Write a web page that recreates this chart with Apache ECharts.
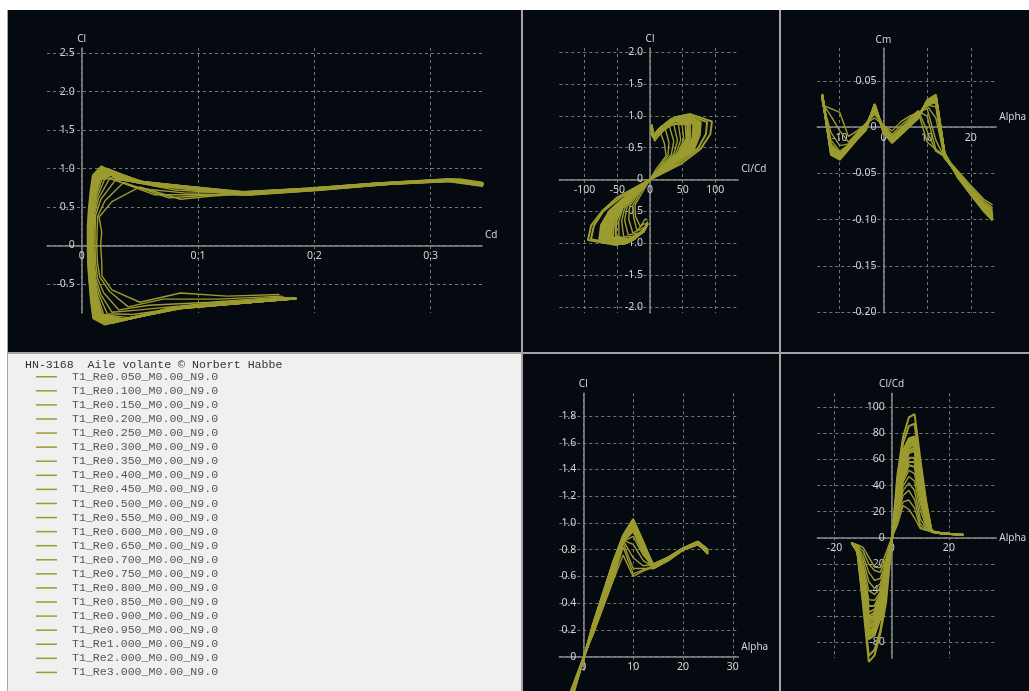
<!DOCTYPE html>
<html><head><meta charset="utf-8">
<script src="https://cdn.jsdelivr.net/npm/echarts@6/dist/echarts.min.js"></script>
<style>html,body{margin:0;padding:0;background:#fff;}#c{width:1029px;height:691px;}</style>
</head><body><div id="c"></div>
<script>
const reynolds = ['0.050','0.100','0.150','0.200','0.250','0.300','0.350','0.400','0.450','0.500','0.550','0.600','0.650','0.700','0.750','0.800','0.850','0.900','0.950','1.000','2.000','3.000'];
const alpha = [-14,-12,-10,-8,-6,-4,-2,0,2,4,6,8,10,12,14,17,20,23,25];
const cl = [
[-0.64,-0.66,-0.62,-0.74,-0.58,-0.40,-0.20,0.00,0.17,0.37,0.57,0.76,0.60,0.64,0.67,0.73,0.80,0.84,0.78],
[-0.66,-0.70,-0.70,-0.80,-0.60,-0.41,-0.21,-0.01,0.17,0.38,0.58,0.82,0.62,0.65,0.68,0.74,0.81,0.85,0.79],
[-0.67,-0.74,-0.78,-0.84,-0.62,-0.42,-0.22,-0.01,0.18,0.39,0.60,0.85,0.66,0.66,0.66,0.72,0.80,0.85,0.77],
[-0.68,-0.76,-0.84,-0.87,-0.64,-0.43,-0.22,-0.02,0.19,0.40,0.61,0.87,0.74,0.68,0.69,0.74,0.81,0.86,0.80],
[-0.68,-0.78,-0.90,-0.89,-0.65,-0.44,-0.23,-0.02,0.19,0.41,0.62,0.87,0.84,0.72,0.67,0.73,0.80,0.84,0.78],
[-0.68,-0.79,-0.94,-0.90,-0.66,-0.45,-0.23,-0.02,0.20,0.42,0.63,0.86,0.90,0.76,0.68,0.74,0.81,0.85,0.79],
[-0.69,-0.80,-0.96,-0.90,-0.67,-0.45,-0.23,-0.02,0.20,0.42,0.64,0.86,0.94,0.78,0.66,0.72,0.80,0.85,0.77],
[-0.69,-0.80,-0.97,-0.91,-0.67,-0.45,-0.23,-0.02,0.20,0.43,0.64,0.86,0.96,0.80,0.69,0.74,0.81,0.86,0.80],
[-0.69,-0.81,-0.98,-0.91,-0.67,-0.46,-0.24,-0.02,0.21,0.43,0.65,0.86,0.97,0.81,0.67,0.73,0.80,0.84,0.78],
[-0.69,-0.81,-0.98,-0.91,-0.68,-0.46,-0.24,-0.02,0.21,0.43,0.65,0.87,0.98,0.82,0.68,0.74,0.81,0.85,0.79],
[-0.69,-0.81,-0.99,-0.91,-0.68,-0.46,-0.24,-0.02,0.21,0.44,0.66,0.87,0.98,0.82,0.66,0.72,0.80,0.85,0.77],
[-0.69,-0.82,-0.99,-0.92,-0.68,-0.47,-0.25,-0.02,0.22,0.44,0.66,0.87,0.99,0.83,0.69,0.74,0.81,0.86,0.80],
[-0.69,-0.82,-1.00,-0.92,-0.69,-0.47,-0.25,-0.02,0.22,0.45,0.67,0.88,0.99,0.83,0.67,0.73,0.80,0.84,0.78],
[-0.69,-0.82,-1.00,-0.92,-0.69,-0.47,-0.25,-0.02,0.22,0.45,0.67,0.88,0.99,0.84,0.68,0.74,0.81,0.85,0.79],
[-0.69,-0.82,-1.00,-0.93,-0.69,-0.48,-0.25,-0.02,0.23,0.46,0.68,0.88,1.00,0.84,0.66,0.72,0.80,0.85,0.77],
[-0.69,-0.82,-1.01,-0.93,-0.70,-0.48,-0.26,-0.02,0.23,0.46,0.68,0.89,1.00,0.84,0.69,0.74,0.81,0.86,0.80],
[-0.69,-0.82,-1.01,-0.93,-0.70,-0.48,-0.26,-0.02,0.23,0.46,0.69,0.89,1.00,0.85,0.67,0.73,0.80,0.84,0.78],
[-0.69,-0.82,-1.01,-0.93,-0.70,-0.49,-0.26,-0.02,0.24,0.47,0.69,0.89,1.00,0.85,0.68,0.74,0.81,0.85,0.79],
[-0.69,-0.82,-1.01,-0.94,-0.71,-0.49,-0.26,-0.02,0.24,0.47,0.70,0.90,1.01,0.85,0.66,0.72,0.80,0.85,0.77],
[-0.69,-0.82,-1.01,-0.94,-0.71,-0.49,-0.27,-0.02,0.24,0.47,0.70,0.90,1.01,0.85,0.69,0.74,0.81,0.86,0.80],
[-0.69,-0.82,-1.02,-0.94,-0.72,-0.50,-0.27,-0.02,0.25,0.48,0.71,0.90,1.02,0.86,0.67,0.73,0.80,0.84,0.78],
[-0.69,-0.82,-1.03,-0.95,-0.72,-0.50,-0.28,-0.02,0.25,0.48,0.71,0.91,1.03,0.86,0.68,0.74,0.81,0.85,0.79]
];
const cd = [
[0.170,0.125,0.085,0.050,0.026,0.0175,0.0172,0.0163,0.0172,0.0150,0.026,0.050,0.085,0.110,0.140,0.200,0.258,0.310,0.340],
[0.172,0.118,0.070,0.040,0.024,0.0155,0.0135,0.0130,0.0132,0.0138,0.020,0.036,0.075,0.105,0.135,0.195,0.255,0.315,0.345],
[0.174,0.110,0.058,0.032,0.019,0.0135,0.0120,0.0115,0.0116,0.0120,0.0165,0.029,0.062,0.098,0.145,0.205,0.265,0.325,0.352],
[0.176,0.104,0.050,0.026,0.0165,0.0122,0.0109,0.0105,0.0106,0.0110,0.0145,0.024,0.050,0.090,0.140,0.200,0.260,0.320,0.350],
[0.177,0.100,0.044,0.022,0.0150,0.0114,0.0102,0.0098,0.0099,0.0103,0.0132,0.020,0.040,0.080,0.135,0.195,0.255,0.315,0.345],
[0.178,0.096,0.040,0.019,0.0138,0.0108,0.0097,0.0093,0.0094,0.0098,0.0122,0.0175,0.034,0.070,0.145,0.205,0.265,0.325,0.352],
[0.179,0.093,0.036,0.0172,0.0129,0.0104,0.0093,0.0089,0.0090,0.0094,0.0115,0.0158,0.030,0.062,0.140,0.200,0.260,0.320,0.350],
[0.180,0.090,0.033,0.0160,0.0122,0.0100,0.0090,0.0086,0.0087,0.0091,0.0110,0.0148,0.028,0.056,0.135,0.195,0.255,0.315,0.345],
[0.180,0.088,0.031,0.0152,0.0117,0.0097,0.0087,0.0083,0.0084,0.0088,0.0106,0.0140,0.026,0.052,0.145,0.205,0.265,0.325,0.352],
[0.181,0.086,0.030,0.0146,0.0115,0.0096,0.0086,0.0081,0.0082,0.0085,0.0100,0.0131,0.025,0.049,0.140,0.200,0.260,0.320,0.350],
[0.181,0.085,0.029,0.0142,0.0112,0.0093,0.0084,0.0079,0.0080,0.0083,0.0099,0.0128,0.024,0.047,0.135,0.195,0.255,0.315,0.345],
[0.182,0.084,0.028,0.0139,0.0109,0.0091,0.0082,0.0077,0.0078,0.0081,0.0098,0.0126,0.023,0.045,0.145,0.205,0.265,0.325,0.352],
[0.182,0.083,0.027,0.0135,0.0107,0.0089,0.0080,0.0075,0.0076,0.0079,0.0097,0.0124,0.022,0.043,0.140,0.200,0.260,0.320,0.350],
[0.182,0.082,0.027,0.0133,0.0105,0.0087,0.0078,0.0074,0.0075,0.0078,0.0096,0.0122,0.022,0.042,0.135,0.195,0.255,0.315,0.345],
[0.183,0.081,0.026,0.0130,0.0102,0.0085,0.0076,0.0072,0.0073,0.0076,0.0095,0.0120,0.021,0.041,0.145,0.205,0.265,0.325,0.352],
[0.183,0.080,0.026,0.0128,0.0101,0.0084,0.0075,0.0071,0.0072,0.0075,0.0094,0.0119,0.021,0.040,0.140,0.200,0.260,0.320,0.350],
[0.183,0.080,0.025,0.0126,0.0099,0.0083,0.0074,0.0070,0.0071,0.0074,0.0094,0.0118,0.020,0.039,0.135,0.195,0.255,0.315,0.345],
[0.184,0.079,0.025,0.0124,0.0098,0.0081,0.0073,0.0069,0.0070,0.0072,0.0093,0.0117,0.020,0.038,0.145,0.205,0.265,0.325,0.352],
[0.184,0.079,0.024,0.0122,0.0097,0.0080,0.0072,0.0068,0.0069,0.0071,0.0093,0.0117,0.019,0.037,0.140,0.200,0.260,0.320,0.350],
[0.184,0.078,0.024,0.0121,0.0095,0.0079,0.0071,0.0067,0.0068,0.0070,0.0092,0.0116,0.019,0.036,0.135,0.195,0.255,0.315,0.345],
[0.185,0.076,0.021,0.0104,0.0084,0.0070,0.0062,0.0059,0.0059,0.0066,0.0083,0.0103,0.018,0.032,0.145,0.205,0.265,0.325,0.352],
[0.185,0.075,0.020,0.0100,0.0080,0.0068,0.0056,0.0052,0.0052,0.0062,0.0077,0.0096,0.017,0.030,0.140,0.200,0.260,0.320,0.350]
];
const cm = [
[0.024,0.020,0.016,-0.010,-0.004,0.004,0.010,0.002,-0.004,0.006,0.012,0.016,-0.016,-0.024,-0.031,-0.047,-0.063,-0.078,-0.084],
[0.026,0.012,-0.004,-0.016,-0.006,0.004,0.014,0.002,-0.008,0.002,0.010,0.018,-0.004,-0.026,-0.032,-0.048,-0.065,-0.080,-0.087],
[0.028,-0.006,-0.020,-0.018,-0.007,0.004,0.016,0.001,-0.010,-0.001,0.008,0.017,0.012,-0.024,-0.032,-0.049,-0.066,-0.082,-0.089],
[0.029,-0.014,-0.026,-0.019,-0.008,0.003,0.017,0.000,-0.011,-0.002,0.007,0.016,0.020,-0.014,-0.033,-0.050,-0.067,-0.083,-0.091],
[0.030,-0.018,-0.028,-0.019,-0.008,0.003,0.018,0.000,-0.011,-0.003,0.006,0.015,0.023,0.010,-0.033,-0.050,-0.067,-0.084,-0.092],
[0.031,-0.020,-0.029,-0.019,-0.008,0.003,0.019,0.000,-0.012,-0.003,0.006,0.015,0.024,0.022,-0.033,-0.050,-0.068,-0.085,-0.093],
[0.031,-0.021,-0.030,-0.020,-0.009,0.002,0.019,-0.001,-0.012,-0.004,0.005,0.014,0.024,0.027,-0.033,-0.051,-0.068,-0.085,-0.094],
[0.032,-0.022,-0.030,-0.020,-0.009,0.002,0.020,-0.001,-0.013,-0.004,0.005,0.014,0.024,0.029,-0.033,-0.051,-0.068,-0.086,-0.095],
[0.032,-0.023,-0.031,-0.020,-0.009,0.002,0.020,-0.001,-0.013,-0.004,0.005,0.014,0.025,0.030,-0.032,-0.051,-0.069,-0.086,-0.095],
[0.033,-0.024,-0.031,-0.021,-0.010,0.001,0.021,-0.002,-0.013,-0.005,0.004,0.013,0.025,0.031,-0.032,-0.051,-0.069,-0.086,-0.096],
[0.033,-0.024,-0.031,-0.021,-0.010,0.001,0.021,-0.002,-0.014,-0.005,0.004,0.013,0.025,0.031,-0.031,-0.051,-0.069,-0.087,-0.096],
[0.033,-0.025,-0.032,-0.021,-0.010,0.001,0.022,-0.002,-0.014,-0.005,0.004,0.013,0.026,0.032,-0.031,-0.052,-0.070,-0.087,-0.097],
[0.034,-0.025,-0.032,-0.022,-0.011,0.000,0.022,-0.003,-0.014,-0.006,0.003,0.012,0.026,0.032,-0.031,-0.052,-0.070,-0.087,-0.097],
[0.034,-0.026,-0.032,-0.022,-0.011,0.000,0.022,-0.003,-0.015,-0.006,0.003,0.012,0.026,0.032,-0.030,-0.052,-0.070,-0.088,-0.098],
[0.034,-0.026,-0.033,-0.022,-0.011,0.000,0.023,-0.003,-0.015,-0.006,0.003,0.012,0.027,0.033,-0.030,-0.052,-0.070,-0.088,-0.098],
[0.035,-0.026,-0.033,-0.022,-0.011,-0.001,0.023,-0.004,-0.015,-0.006,0.003,0.012,0.027,0.033,-0.030,-0.052,-0.071,-0.088,-0.098],
[0.035,-0.027,-0.033,-0.023,-0.012,-0.001,0.023,-0.004,-0.015,-0.007,0.002,0.011,0.027,0.033,-0.030,-0.053,-0.071,-0.089,-0.099],
[0.035,-0.027,-0.033,-0.023,-0.012,-0.001,0.024,-0.004,-0.016,-0.007,0.002,0.011,0.027,0.033,-0.029,-0.053,-0.071,-0.089,-0.099],
[0.035,-0.027,-0.034,-0.023,-0.012,-0.001,0.024,-0.004,-0.016,-0.007,0.002,0.011,0.028,0.034,-0.029,-0.053,-0.071,-0.089,-0.099],
[0.036,-0.028,-0.034,-0.023,-0.012,-0.002,0.024,-0.005,-0.016,-0.007,0.002,0.011,0.028,0.034,-0.029,-0.053,-0.072,-0.090,-0.100],
[0.034,-0.029,-0.035,-0.024,-0.013,-0.002,0.025,-0.005,-0.017,-0.008,0.001,0.010,0.029,0.035,-0.028,-0.054,-0.072,-0.090,-0.100],
[0.033,-0.030,-0.035,-0.024,-0.013,-0.003,0.025,-0.006,-0.017,-0.008,0.001,0.010,0.029,0.035,-0.028,-0.054,-0.073,-0.091,-0.101]
];
const seriesNames = reynolds.map(r => 'T1_Re' + r + '_M0.00_N9.0');
const titleText = 'HN-3168  Aile volante \u00A9 Norbert Habbe';

// axis ranges [min, max, step, decimals]
const tlX = [-0.0298, 0.3441, 0.1, 1], tlY = [-0.880, 2.569, 0.5, 1];
const tmX = [-138.8, 135.1, 50, 0], tmY = [-2.097, 2.065, 0.5, 1];
const trX = [-15.14, 25.85, 10, 0], trY = [-0.2011, 0.0857, 0.05, 2];
const bmX = [-4.82, 31.1, 10, 0], bmY = [-0.1017, 1.970, 0.2, 1];
const brX = [-26.0, 36.58, 20, 0], brY = [-92.25, 110.7, 20, 0];

const LINE = '#9b9b30';
const LBL = '#d4d4d4';
const FONT = 'Noto Sans';

function fmt(step, dec) {
  return function (v) {
    const k = v / step;
    if (Math.abs(k - Math.round(k)) > 1e-6) return '';
    if (Math.abs(v) < 1e-9) return '0';
    return v.toFixed(dec);
  };
}
function axis(kind, gi, r, name, nameGap, offset, nameStyle) {
  return {
    type: 'value', gridIndex: gi, min: r[0], max: r[1],
    minInterval: r[2], maxInterval: r[2], splitNumber: 5,
    position: kind === 'x' ? 'bottom' : 'left', offset: offset,
    name: name, nameLocation: 'end', nameGap: nameGap,
    nameTextStyle: Object.assign({color: LBL, fontSize: 10, fontFamily: FONT}, nameStyle || {}),
    axisLine: {show: true, onZero: false, lineStyle: {color: '#8a8a8a', width: 1.5}},
    axisTick: {show: false},
    axisLabel: {color: LBL, fontSize: 10.5, fontFamily: FONT, margin: kind === 'x' ? 5 : 7,
      formatter: fmt(r[2], r[3]), showMinLabel: true, showMaxLabel: true},
    splitLine: {show: true, showMinLine: false, showMaxLine: false,
      lineStyle: {color: '#757575', width: 1, type: [3, 3]}}
  };
}
const xAbove = {align: 'left', verticalAlign: 'bottom', lineHeight: 20};

const grids = [
  {left: 47, top: 48, width: 435, height: 265},
  {left: 559.3, top: 48, width: 179, height: 265},
  {left: 817.3, top: 48, width: 179, height: 265},
  {left: 559.3, top: 393.3, width: 179, height: 277},
  {left: 817.3, top: 393.3, width: 179, height: 265}
];
// offsets that put each axis line through the other axis' zero
function yOff(xr, g) { return -((0 - xr[0]) / (xr[1] - xr[0])) * g.width; }
function xOff(yr, g) { return -((0 - yr[0]) / (yr[1] - yr[0])) * g.height; }

const xAxes = [
  axis('x', 0, tlX, 'Cd', 3, xOff(tlY, grids[0]), xAbove),
  axis('x', 1, tmX, 'Cl/Cd', 3, xOff(tmY, grids[1]), xAbove),
  axis('x', 2, trX, 'Alpha', 3, xOff(trY, grids[2]), xAbove),
  axis('x', 3, bmX, 'Alpha', 3, xOff(bmY, grids[3]), xAbove),
  axis('x', 4, brX, 'Alpha', 3, xOff(brY, grids[4]), {align: 'left', verticalAlign: 'middle'})
];
const yAxes = [
  axis('y', 0, tlY, 'Cl', 4, yOff(tlX, grids[0])),
  axis('y', 1, tmY, 'Cl', 4, yOff(tmX, grids[1])),
  axis('y', 2, trY, 'Cm', 3, yOff(trX, grids[2])),
  axis('y', 3, bmY, 'Cl', 4, yOff(bmX, grids[3])),
  axis('y', 4, brY, 'Cl/Cd', 4, yOff(brX, grids[4]))
];

const series = [];
function mk(name, gi, data, w) {
  return {type: 'line', name: name, xAxisIndex: gi, yAxisIndex: gi, data: data,
    symbol: 'none', showSymbol: false, clip: false, silent: true, animation: false,
    lineStyle: {color: LINE, width: w}, itemStyle: {color: LINE}, z: 3};
}
for (let i = 0; i < reynolds.length; i++) {
  const n = seriesNames[i];
  const w = i < 6 ? 1.4 : 2;
  const p0 = [], p1 = [], p2 = [], p3 = [], p4 = [];
  for (let k = 0; k < alpha.length; k++) {
    const ld = cl[i][k] / cd[i][k];
    p0.push([cd[i][k], cl[i][k]]);
    p1.push([ld, cl[i][k]]);
    p2.push([alpha[k], cm[i][k]]);
    p3.push([alpha[k], cl[i][k]]);
    p4.push([alpha[k], ld]);
  }
  series.push(mk(n, 0, p0, w), mk(n, 1, p1, w), mk(n, 2, p2, w), mk(n, 3, p3, w), mk(n, 4, p4, w));
}

const DARK = '#050a11';
const graphic = [
  {type: 'rect', shape: {x: 7, y: 10, width: 1022, height: 681}, style: {fill: '#a4a4a4'}, z: -20, silent: true},
  {type: 'rect', shape: {x: 8, y: 10, width: 513, height: 342}, style: {fill: DARK}, z: -10, silent: true},
  {type: 'rect', shape: {x: 523, y: 10, width: 256, height: 342}, style: {fill: DARK}, z: -10, silent: true},
  {type: 'rect', shape: {x: 781, y: 10, width: 248, height: 342}, style: {fill: DARK}, z: -10, silent: true},
  {type: 'rect', shape: {x: 8, y: 354, width: 513, height: 337}, style: {fill: '#f0f0f0'}, z: -10, silent: true},
  {type: 'rect', shape: {x: 523, y: 354, width: 256, height: 337}, style: {fill: DARK}, z: -10, silent: true},
  {type: 'rect', shape: {x: 781, y: 354, width: 248, height: 337}, style: {fill: DARK}, z: -10, silent: true}
];

const chart = echarts.init(document.getElementById('c'), null, {renderer: 'canvas'});
chart.setOption({
  backgroundColor: '#ffffff',
  animation: false,
  graphic: graphic,
  title: {text: titleText, left: 25, top: 358, padding: 0,
    textStyle: {fontFamily: 'Liberation Mono', fontSize: 11.6, fontWeight: 'normal', color: '#333', lineHeight: 14}},
  legend: {orient: 'vertical', left: 36, top: 369.7, padding: 0, itemWidth: 21, itemHeight: 1.5, itemGap: 0,
    icon: 'rect', selectedMode: false, data: seriesNames,
    textStyle: {fontFamily: 'Liberation Mono', fontSize: 11.6, color: '#555', lineHeight: 14.08, padding: [0, 0, 0, 10]}},
  grid: grids,
  xAxis: xAxes,
  yAxis: yAxes,
  series: series
});
</script></body></html>
